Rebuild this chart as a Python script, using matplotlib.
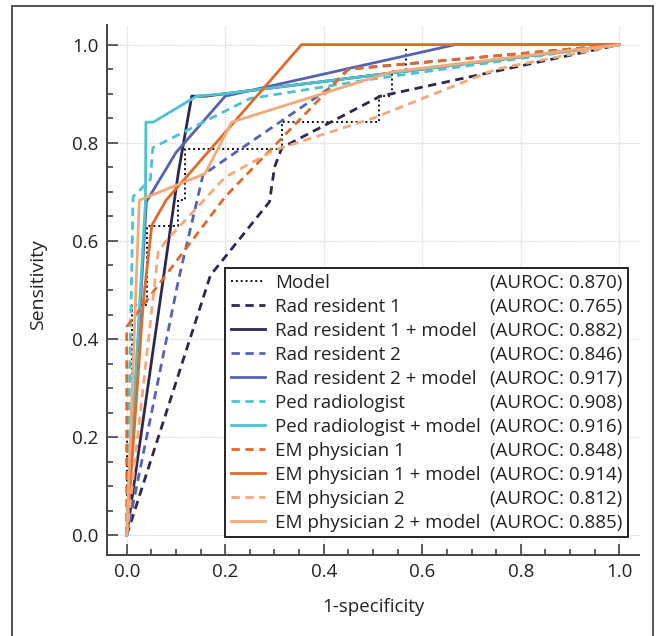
import matplotlib
matplotlib.use("Agg")
import matplotlib.pyplot as plt
from matplotlib.lines import Line2D
from matplotlib.patches import Rectangle
from matplotlib.ticker import MultipleLocator

plt.rcParams['font.family'] = ['Open Sans', 'DejaVu Sans']

# ---- data (1-specificity, sensitivity) ----
model_fpr = [0.0, 0.0, 0.011, 0.011, 0.041, 0.041, 0.105, 0.105, 0.118, 0.118, 0.315, 0.315, 0.513, 0.513, 0.538, 0.538, 0.567, 0.567, 1.0]
model_tpr = [0.0, 0.2, 0.2, 0.47, 0.47, 0.63, 0.63, 0.683, 0.683, 0.788, 0.788, 0.842, 0.842, 0.896, 0.896, 0.947, 0.947, 1.0, 1.0]

rr1_fpr = [0.0, 0.17, 0.29, 0.30, 0.315, 0.515, 1.0]
rr1_tpr = [0.0, 0.53, 0.68, 0.75, 0.79, 0.895, 1.0]

rr1m_fpr = [0.0, 0.105, 0.132, 0.16, 1.0]
rr1m_tpr = [0.0, 0.74, 0.895, 0.895, 1.0]

rr2_fpr = [0.0, 0.105, 0.155, 0.315, 0.41, 0.45, 1.0]
rr2_tpr = [0.0, 0.52, 0.735, 0.845, 0.91, 0.95, 1.0]

rr2m_fpr = [0.0, 0.04, 0.10, 0.20, 0.667, 1.0]
rr2m_tpr = [0.0, 0.68, 0.78, 0.895, 1.0, 1.0]

ped_fpr = [0.0, 0.013, 0.048, 0.053, 0.25, 0.5, 1.0]
ped_tpr = [0.0, 0.69, 0.725, 0.79, 0.89, 0.93, 1.0]

pedm_fpr = [0.0, 0.038, 0.039, 0.054, 0.142, 0.2, 1.0]
pedm_tpr = [0.0, 0.68, 0.842, 0.842, 0.895, 0.9, 1.0]

em1_fpr = [0.0, 0.0, 0.2, 0.45, 1.0]
em1_tpr = [0.0, 0.425, 0.69, 0.95, 1.0]

em1m_fpr = [0.0, 0.034, 0.051, 0.08, 0.355, 1.0]
em1m_tpr = [0.0, 0.48, 0.632, 0.683, 1.0, 1.0]

em2_fpr = [0.0, 0.064, 0.08, 0.2, 0.3, 0.5, 0.75, 1.0]
em2_tpr = [0.0, 0.578, 0.60, 0.73, 0.785, 0.85, 0.95, 1.0]

em2m_fpr = [0.0, 0.0256, 0.159, 0.213, 0.54, 1.0]
em2m_tpr = [0.0, 0.683, 0.737, 0.842, 0.945, 1.0]

names = ["Model", "Rad resident 1", "Rad resident 1 + model", "Rad resident 2",
         "Rad resident 2 + model", "Ped radiologist", "Ped radiologist + model",
         "EM physician 1", "EM physician 1 + model", "EM physician 2",
         "EM physician 2 + model"]
aurocs = [0.870, 0.765, 0.882, 0.846, 0.917, 0.908, 0.916, 0.848, 0.914, 0.812, 0.885]

curves = [(model_fpr, model_tpr), (rr1_fpr, rr1_tpr), (rr1m_fpr, rr1m_tpr),
          (rr2_fpr, rr2_tpr), (rr2m_fpr, rr2m_tpr), (ped_fpr, ped_tpr),
          (pedm_fpr, pedm_tpr), (em1_fpr, em1_tpr), (em1m_fpr, em1m_tpr),
          (em2_fpr, em2_tpr), (em2m_fpr, em2m_tpr)]

colors = ["#111111", "#2e2750", "#2e2750", "#5563b6", "#5563b6", "#4cc3d0",
          "#4cc3d0", "#e06a2a", "#e06a2a", "#f7a878", "#f7a878"]
dash = (0, (3, 2))
styles = [(0, (1, 1.5)), dash, "-", dash, "-", dash, "-", dash, "-", dash, "-"]
widths = [1.4, 2.0, 2.0, 2.0, 2.0, 2.0, 2.0, 2.0, 2.0, 2.0, 2.0]

# ---- figure ----
fig = plt.figure(figsize=(6.57, 6.36), dpi=100)
ax = fig.add_axes([107/657, (636-555)/636, 532/657, 530/636])

lines = []
for (x, y), c, ls, lw in zip(curves, colors, styles, widths):
    ln, = ax.plot(x, y, color=c, linestyle=ls, linewidth=lw)
    lines.append(ln)

ax.set_xlim(-0.04, 1.04)
ax.set_ylim(-0.04, 1.04)
for s in ["top", "right"]:
    ax.spines[s].set_visible(False)
for s in ["left", "bottom"]:
    ax.spines[s].set_color("#444444")
    ax.spines[s].set_linewidth(1.4)

ax.xaxis.set_major_locator(MultipleLocator(0.2))
ax.yaxis.set_major_locator(MultipleLocator(0.2))
ax.xaxis.set_minor_locator(MultipleLocator(0.05))
ax.yaxis.set_minor_locator(MultipleLocator(0.05))
ax.tick_params(which="both", direction="in", color="#444444", width=1.2,
               labelsize=13.5, labelcolor="#222222", pad=6)
ax.tick_params(which="major", length=8)
ax.tick_params(which="minor", length=4)
ax.grid(True, which="major", color="#d4d4d4", linestyle=(0, (1, 1)), linewidth=0.9)
ax.set_axisbelow(True)

ax.set_xlabel("1-specificity", fontsize=13.5, color="#222222")
ax.set_ylabel("Sensitivity", fontsize=14, color="#222222")
ax.xaxis.set_label_coords(0.5, -0.082)
ax.yaxis.set_label_coords(-0.113, 0.51)

blank = [Line2D([], [], color="none") for _ in names]
auroc_labels = ["(AUROC: {:.3f})".format(a) for a in aurocs]
leg = ax.legend(lines + blank, names + auroc_labels, ncol=2,
                loc="upper left", bbox_to_anchor=(0.2, 0.545),
                bbox_transform=ax.transData, borderaxespad=0,
                borderpad=0.3, handlelength=1.8, handletextpad=0.55,
                labelspacing=0.32, columnspacing=-1.85, fontsize=13.5,
                frameon=True, fancybox=False, framealpha=1,
                edgecolor="#222222")
leg.get_frame().set_linewidth(1.4)
for t in leg.get_texts():
    t.set_color("#222222")

fig.patches.append(Rectangle((12/657, -0.02), (653-12)/657, 1.02 - 6/636,
                             transform=fig.transFigure, fill=False,
                             edgecolor="#444444", linewidth=1.3))

fig.savefig("out.png", dpi=100)
